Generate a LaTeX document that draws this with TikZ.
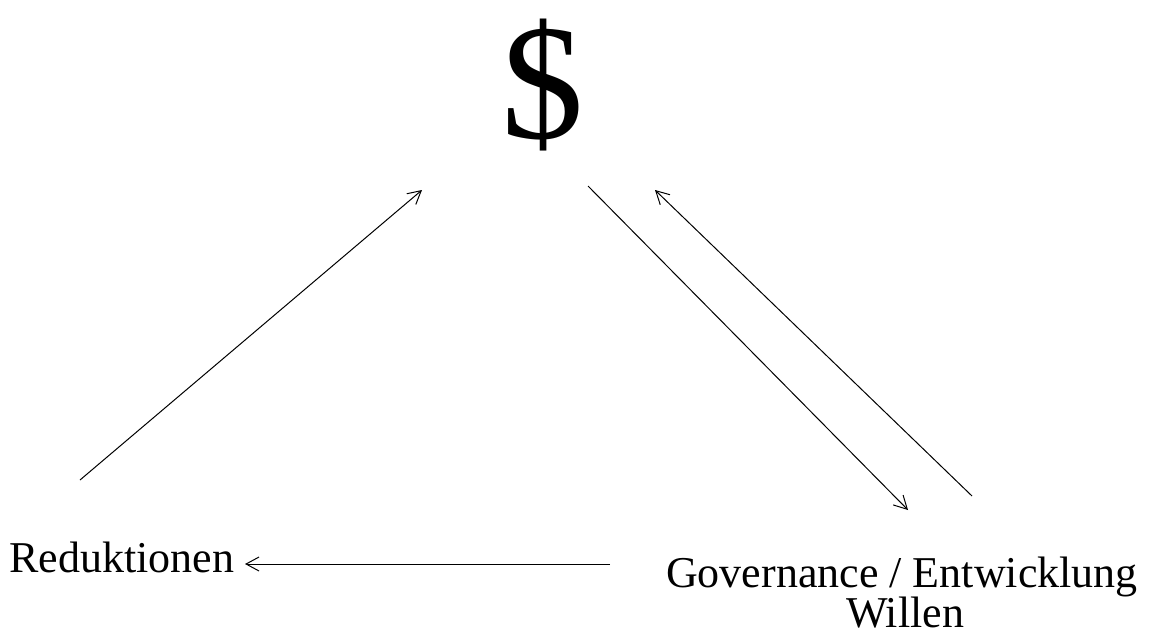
\documentclass[tikz,border=0pt]{standalone}
\usepackage{fontspec}
\setmainfont{Liberation Serif}
\usetikzlibrary{arrows.meta}
\begin{document}
\begin{tikzpicture}[x=1pt,y=-1pt,
  conn/.style={line width=1pt,-{Straight Barb[length=13pt,width=14pt,line width=1pt]}},
  lbl/.style={inner sep=0pt,anchor=base,font=\fontsize{44}{48}\selectfont}]
\useasboundingbox (0,0) rectangle (1150,637);
\node[inner sep=0pt,font=\fontsize{165}{170}\selectfont] (dollar) at (543,85) {\$};
\node[lbl] (red) at (122,572) {Reduktionen};
\node[lbl] (gov) at (902,587) {Governance / Entwicklung};
\node[lbl] (wil) at (905,627) {Willen};
\coordinate (a1) at (80,480);
\coordinate (a2) at (422,190);
\coordinate (b1) at (588,186);
\coordinate (b2) at (908,510);
\coordinate (c1) at (972,496);
\coordinate (c2) at (655,190);
\coordinate (d1) at (610,564);
\coordinate (d2) at (245,564);
\draw[conn] (a1) -- (a2);
\draw[conn] (b1) -- (b2);
\draw[conn] (c1) -- (c2);
\draw[conn] (d1) -- (d2);
\end{tikzpicture}
\end{document}
